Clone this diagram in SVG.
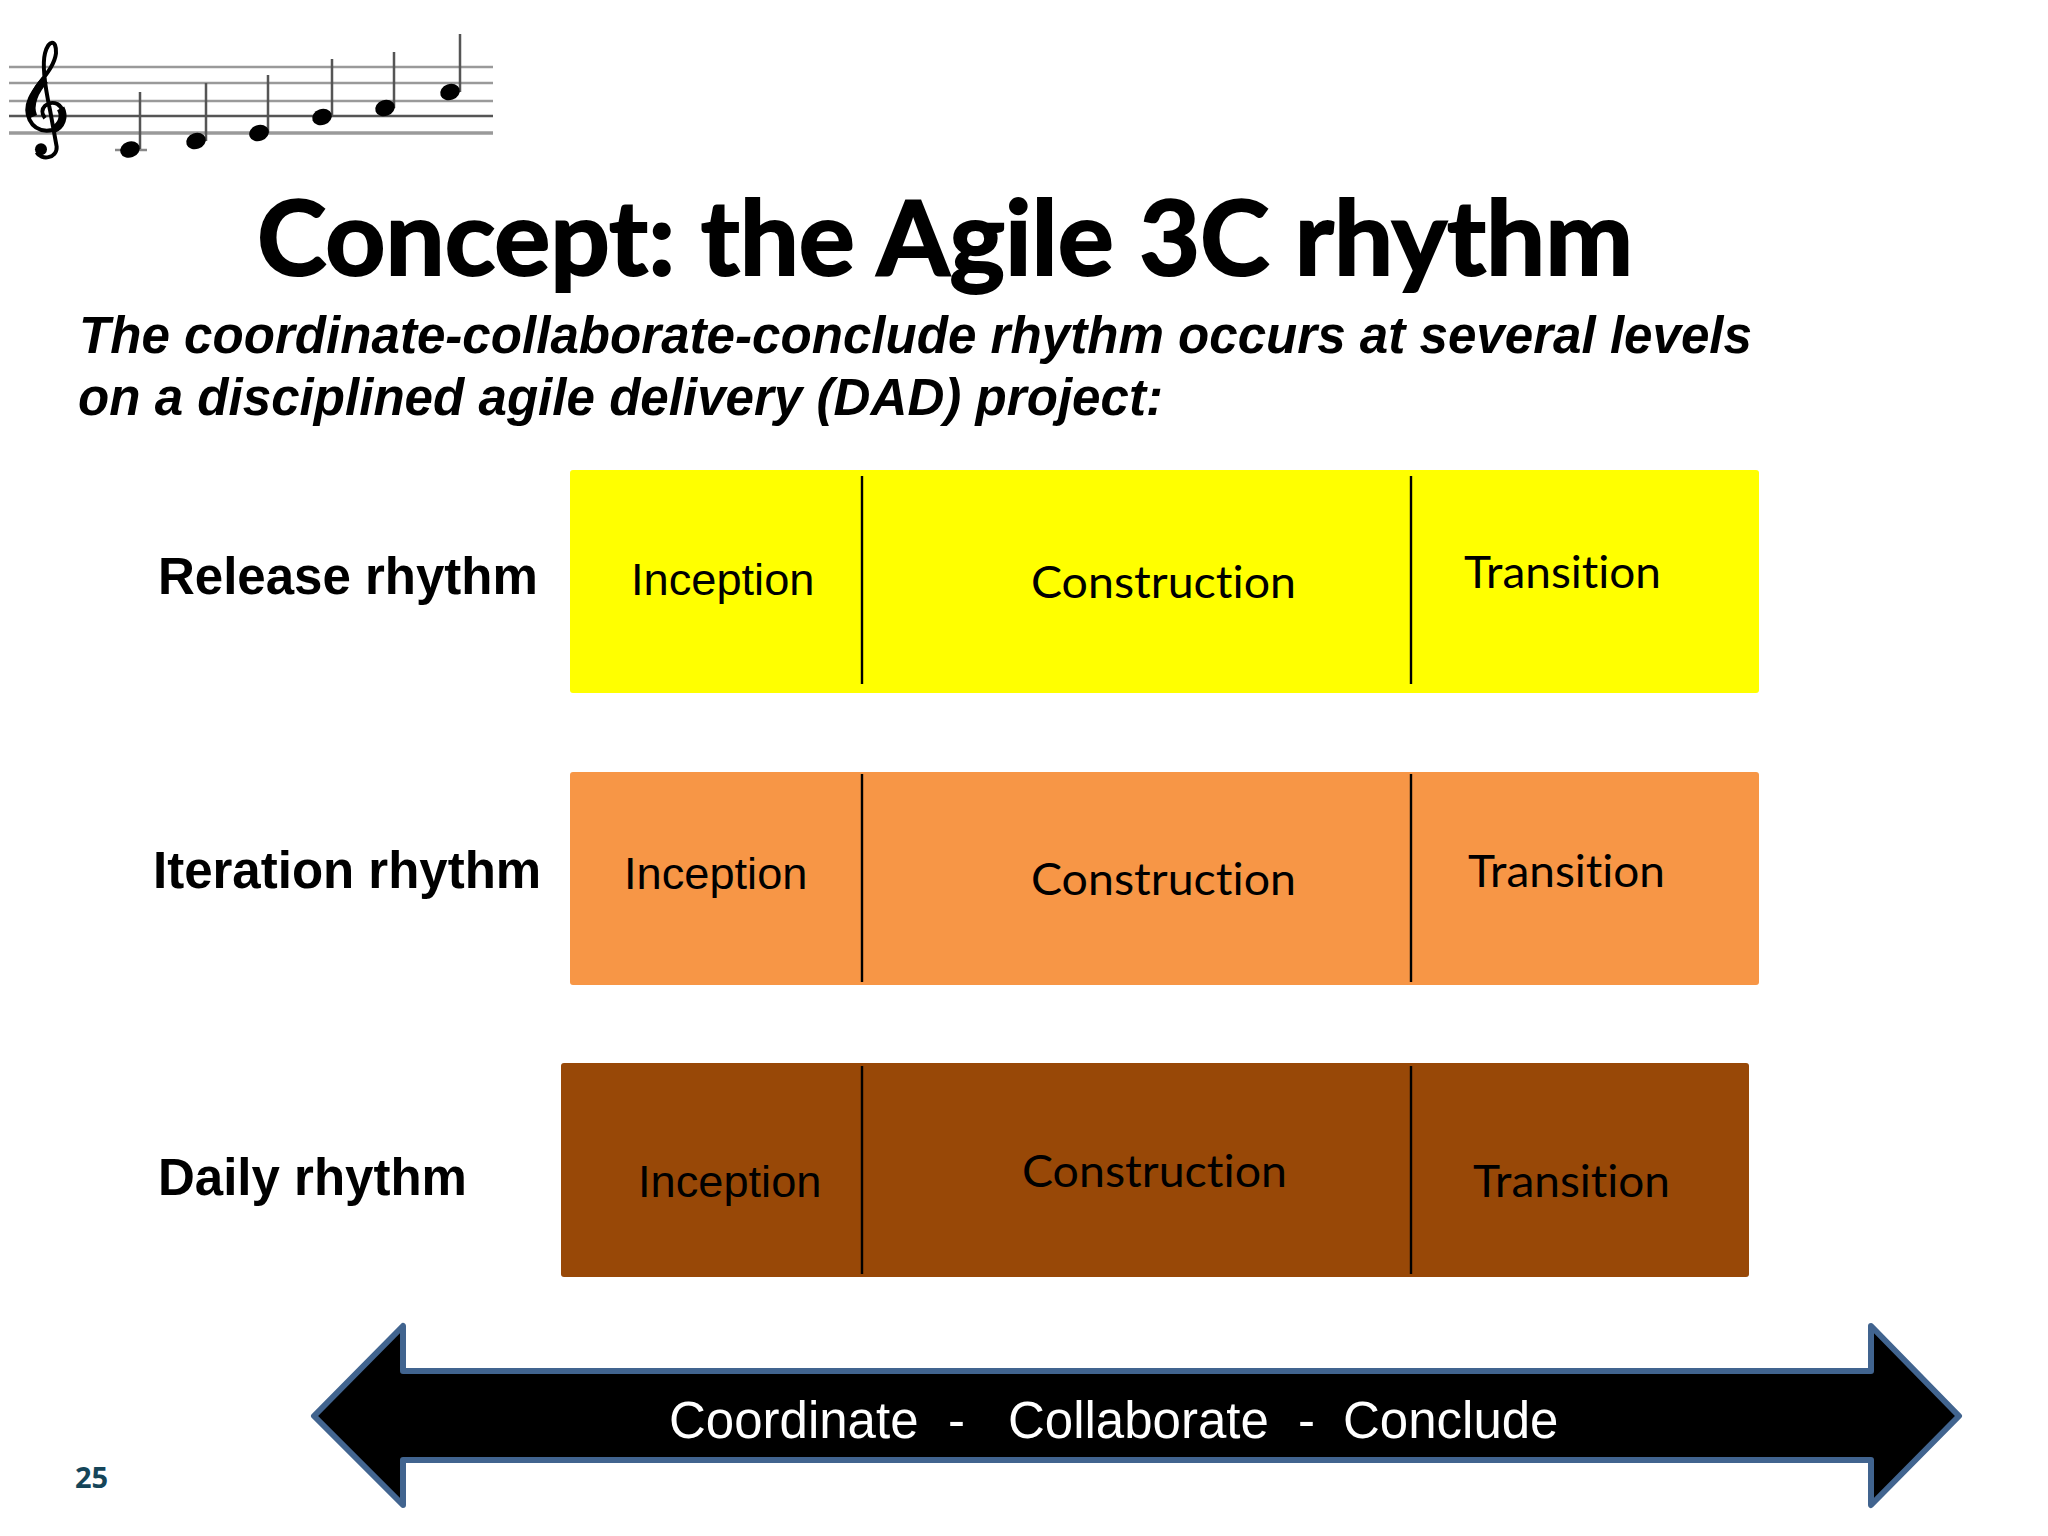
<svg xmlns="http://www.w3.org/2000/svg" width="2048" height="1536" viewBox="0 0 2048 1536">
<style>
.lbl{font-family:"Liberation Sans",Arial,sans-serif;font-weight:700;font-size:51px;fill:#000}
.sub{font-family:"Liberation Sans",Arial,sans-serif;font-weight:700;font-style:italic;font-size:51px;fill:#000}
.inc{font-family:"Liberation Sans",Arial,sans-serif;font-size:45.200px;fill:#000}
.cal{font-family:Lato,"Open Sans",sans-serif;font-size:45px;fill:#000;font-variant-ligatures:none}
.div{stroke:#000;stroke-width:2.4;fill:none}
.staff{stroke:#9a9a9a;stroke-width:2.500;fill:none}
.stem{stroke:#555;stroke-width:2.500;fill:none}
</style>
<rect width="2048" height="1536" fill="#fff"/>
<g id="music">
<path class="staff" d="M9 67H493M9 83H493M9 101H493"/>
<path class="staff" d="M9 116H493" style="stroke:#555"/>
<path class="staff" d="M9 133H493" style="stroke-width:3.500"/>
<path class="staff" d="M115 150H147" style="stroke:#888"/>
<path class="stem" d="M140 92V149M206 83V141M268 75V133M332 59V117M394 52V108M460 34V92"/>
<g fill="#000">
<ellipse cx="130" cy="149.500" rx="10" ry="8" transform="rotate(-20 130 149.500)"/>
<ellipse cx="196" cy="141" rx="10" ry="8" transform="rotate(-20 196 141)"/>
<ellipse cx="259" cy="133" rx="10" ry="8" transform="rotate(-20 259 133)"/>
<ellipse cx="322" cy="117" rx="10" ry="8" transform="rotate(-20 322 117)"/>
<ellipse cx="385" cy="108" rx="10" ry="8" transform="rotate(-20 385 108)"/>
<ellipse cx="450" cy="92" rx="10" ry="8" transform="rotate(-20 450 92)"/>
</g>
<g transform="translate(0,20) scale(.3333)" fill="none" stroke="#000">
<path stroke-width="12" d="M135 295C112 265 145 240 172 252C205 272 195 332 140 332C90 330 70 280 90 235C110 190 162 150 168 100C170 55 145 60 135 100C125 140 135 200 150 270L170 380C172 418 122 420 110 398"/>
<path stroke-width="24" d="M100 290C85 255 105 210 135 180M182 265C195 290 185 318 160 328"/>
<circle cx="123" cy="388" r="18" fill="#000" stroke="none"/>
</g>
</g>
<g id="title"><text x="257" y="275" textLength="1376" lengthAdjust="spacingAndGlyphs" style="font-family:Lato,'Open Sans',sans-serif;font-weight:700;font-size:103px;fill:#000;stroke:#000;stroke-width:2">Concept: the Agile 3C rhythm</text></g>
<g id="subtitle">
<text class="sub" x="79" y="353" textLength="1673" lengthAdjust="spacingAndGlyphs">The coordinate-collaborate-conclude rhythm occurs at several levels</text>
<text class="sub" x="78" y="415" textLength="1085" lengthAdjust="spacingAndGlyphs">on a disciplined agile delivery (DAD) project:</text>
</g>
<g id="release-label"><text class="lbl" x="158" y="594">Release rhythm</text></g>
<g id="iteration-label"><text class="lbl" x="153" y="888">Iteration rhythm</text></g>
<g id="daily-label"><text class="lbl" x="158" y="1195">Daily rhythm</text></g>
<g id="release-bar">
<rect x="570" y="470" width="1189" height="223" rx="3" fill="#ffff00"/>
<text class="inc" x="631" y="595">Inception</text>
<text class="cal" x="1031" y="598" textLength="265" lengthAdjust="spacingAndGlyphs">Construction</text>
<text class="cal" x="1464" y="588" textLength="197" lengthAdjust="spacingAndGlyphs">Transition</text>
</g>
<g id="iteration-bar">
<rect x="570" y="772" width="1189" height="213" rx="3" fill="#f79646"/>
<text class="inc" x="624" y="889">Inception</text>
<text class="cal" x="1031" y="895" textLength="265" lengthAdjust="spacingAndGlyphs">Construction</text>
<text class="cal" x="1468" y="887" textLength="197" lengthAdjust="spacingAndGlyphs">Transition</text>
</g>
<g id="daily-bar">
<rect x="561" y="1063" width="1188" height="214" rx="3" fill="#984807"/>
<text class="inc" x="638" y="1197">Inception</text>
<text class="cal" x="1022" y="1187" textLength="265" lengthAdjust="spacingAndGlyphs">Construction</text>
<text class="cal" x="1473" y="1197" textLength="197" lengthAdjust="spacingAndGlyphs">Transition</text>
</g>
<g id="connectors">
<path class="div" d="M862 476V684M1411 476V684M862 774V982M1411 774V982M862 1066V1274M1411 1066V1274"/>
</g>
<g id="arrow">
<path d="M314 1416L403 1326V1371H1871V1326L1959 1416L1871 1505V1460H403V1505Z" fill="#000" stroke="#41648f" stroke-width="6" stroke-linejoin="round"/>
<text style="font-family:'Liberation Sans',Arial,sans-serif;font-size:51px;fill:#fff" y="1438"><tspan x="669">Coordinate</tspan><tspan x="948">-</tspan><tspan x="1008">Collaborate</tspan><tspan x="1298">-</tspan><tspan x="1343">Conclude</tspan></text>
</g>
<g id="page-number"><text x="75" y="1488" style="font-family:'Open Sans',sans-serif;font-weight:700;font-size:29px;fill:#154559">25</text></g>
</svg>
